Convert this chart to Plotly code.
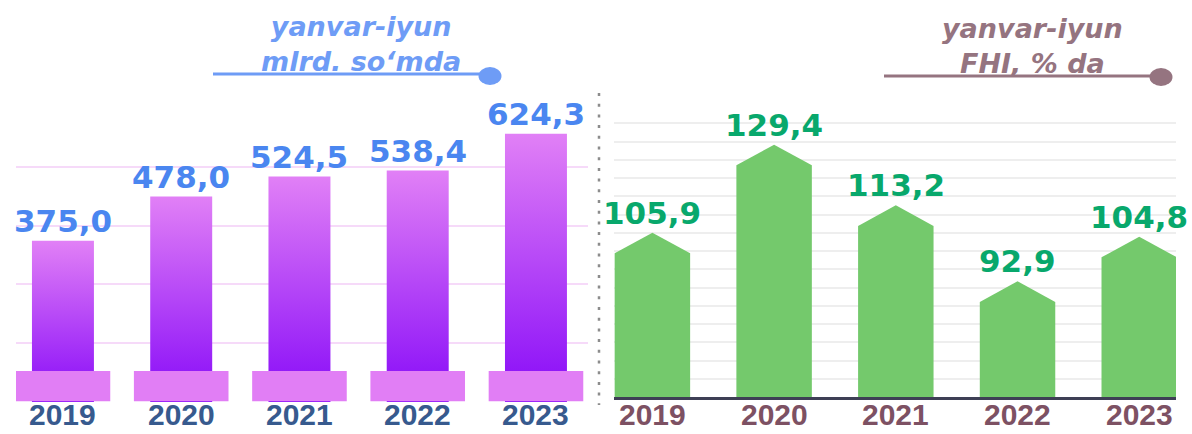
import plotly.graph_objects as go

W, H = 1192, 434

# ---- data ----
years = ["2019", "2020", "2021", "2022", "2023"]
volume = [375.0, 478.0, 524.5, 538.4, 624.3]      # yanvar-iyun, mlrd. so'm
index_pct = [105.9, 129.4, 113.2, 92.9, 104.8]    # yanvar-iyun, FHI, %

left_title = "yanvar-iyun<br>mlrd. so‘mda"
right_title = "yanvar-iyun<br>FHI, % da"


def fmt(v):
    return f"{v:.1f}".replace(".", ",")


def pxx(p):
    return p / W


def pxy(p):
    return 1 - p / H


# ---- style constants ----
BAR_HALF = 0.262
PLINTH_HALF = 0.40
PLINTH_LOW, PLINTH_HIGH = 2, 72
HOUSE_HALF = 0.31
HOUSE_DROP = 5.5
R_MIN, R_MAX = 62, 140
L_MAX = 684

NUM_FONT = "DejaVu Sans"
YEAR_FONT = "Liberation Sans, Arial"

fig = go.Figure()

# left: gradient columns
for i, v in enumerate(volume):
    fig.add_trace(go.Scatter(
        x=[i - BAR_HALF, i - BAR_HALF, i + BAR_HALF, i + BAR_HALF, i - BAR_HALF],
        y=[0, v, v, 0, 0],
        mode="lines", line=dict(width=0), fill="toself",
        fillgradient=dict(type="vertical",
                          colorscale=[[0, "#870AF8"], [1, "#E180F6"]]),
        hoverinfo="skip", showlegend=False, xaxis="x", yaxis="y"))

# left: pink plinths
for i, v in enumerate(volume):
    fig.add_trace(go.Scatter(
        x=[i - PLINTH_HALF, i - PLINTH_HALF, i + PLINTH_HALF, i + PLINTH_HALF, i - PLINTH_HALF],
        y=[PLINTH_LOW, PLINTH_HIGH, PLINTH_HIGH, PLINTH_LOW, PLINTH_LOW],
        mode="lines", line=dict(width=0), fill="toself", fillcolor="#E17EF5",
        hoverinfo="skip", showlegend=False, xaxis="x", yaxis="y"))

# right: house-shaped columns
for i, v in enumerate(index_pct):
    fig.add_trace(go.Scatter(
        x=[i - HOUSE_HALF, i - HOUSE_HALF, i, i + HOUSE_HALF, i + HOUSE_HALF, i - HOUSE_HALF],
        y=[R_MIN, v - HOUSE_DROP, v, v - HOUSE_DROP, R_MIN, R_MIN],
        mode="lines", line=dict(width=0), fill="toself", fillcolor="#74C96C",
        hoverinfo="skip", showlegend=False, xaxis="x2", yaxis="y2"))

annotations = []
for i, v in enumerate(volume):
    annotations.append(dict(
        x=i, y=v, xref="x", yref="y", text=fmt(v), showarrow=False,
        yanchor="bottom", xanchor="center",
        font=dict(family=NUM_FONT, size=31, color="#4A86F0", weight="bold")))
for i, v in enumerate(index_pct):
    annotations.append(dict(
        x=i, y=v, xref="x2", yref="y2", text=fmt(v), showarrow=False,
        yanchor="bottom", xanchor="center",
        font=dict(family=NUM_FONT, size=31, color="#08A86C", weight="bold")))

# year labels under each chart
for i, yr in enumerate(years):
    annotations.append(dict(
        x=i, y=0, xref="x", yref="y", text=yr, showarrow=False,
        yanchor="middle", xanchor="center", yshift=-12,
        font=dict(family=YEAR_FONT, size=30, color="#375A8E", weight="bold")))
    annotations.append(dict(
        x=i, y=R_MIN, xref="x2", yref="y2", text=yr, showarrow=False,
        yanchor="middle", xanchor="center", yshift=-17,
        font=dict(family=YEAR_FONT, size=30, color="#7D5163", weight="bold")))

annotations.append(dict(
    x=pxx(361), y=pxy(44), xref="paper", yref="paper", text=left_title,
    showarrow=False, xanchor="center", yanchor="middle", align="center",
    font=dict(family=NUM_FONT, size=27, color="#6E9CF6", weight="bold", style="italic")))
annotations.append(dict(
    x=pxx(1032), y=pxy(46), xref="paper", yref="paper", text=right_title,
    showarrow=False, xanchor="center", yanchor="middle", align="center",
    font=dict(family=NUM_FONT, size=27, color="#957480", weight="bold", style="italic")))

shapes = [
    # left title underline + dot
    dict(type="line", xref="paper", yref="paper", x0=pxx(213), x1=pxx(484),
         y0=pxy(74), y1=pxy(74), line=dict(color="#6E9CF6", width=3)),
    dict(type="circle", xref="paper", yref="paper", x0=pxx(478.5), x1=pxx(501.5),
         y0=pxy(85), y1=pxy(67), fillcolor="#6E9CF6", line=dict(width=0)),
    # right title underline + dot
    dict(type="line", xref="paper", yref="paper", x0=pxx(884), x1=pxx(1155),
         y0=pxy(76), y1=pxy(76), line=dict(color="#957480", width=3)),
    dict(type="circle", xref="paper", yref="paper", x0=pxx(1149.5), x1=pxx(1172.5),
         y0=pxy(86), y1=pxy(68), fillcolor="#957480", line=dict(width=0)),
    # dotted separator
    dict(type="line", xref="paper", yref="paper", x0=pxx(599), x1=pxx(599),
         y0=pxy(93), y1=pxy(405), line=dict(color="#8C8C8C", width=2.5, dash="3px,7.7px")),
]

fig.update_layout(
    width=W, height=H, autosize=False,
    margin=dict(l=0, r=0, t=0, b=0, pad=0, autoexpand=False),
    paper_bgcolor="white", plot_bgcolor="rgba(0,0,0,0)",
    showlegend=False,
    annotations=annotations, shapes=shapes,
    xaxis=dict(domain=[pxx(16), pxx(588)], range=[-0.397, 4.44],
               tickmode="array", tickvals=list(range(len(years))), ticktext=years,
               showticklabels=False, ticks="", automargin=False,
               showgrid=False, zeroline=False, showline=False, anchor="y", fixedrange=True),
    yaxis=dict(domain=[pxy(402), pxy(108)], range=[0, L_MAX],
               tickmode="linear", tick0=0, dtick=L_MAX / 5, automargin=False,
               showticklabels=False, gridcolor="#F6DAF9", gridwidth=2,
               zeroline=False, showline=False, anchor="x", fixedrange=True),
    xaxis2=dict(domain=[pxx(614), pxx(1176)], range=[-0.3155, 4.302],
                tickmode="array", tickvals=list(range(len(years))), ticktext=years,
                showticklabels=False, ticks="", automargin=False,
                showgrid=False, zeroline=False, showline=True, linecolor="#3E3F55",
                linewidth=3, anchor="y2", fixedrange=True),
    yaxis2=dict(domain=[pxy(397), pxy(105)], range=[R_MIN, R_MAX],
                tickmode="linear", tick0=R_MIN, dtick=(R_MAX - R_MIN) / 16, automargin=False,
                showticklabels=False, gridcolor="#EEEEEE", gridwidth=2,
                zeroline=False, showline=False, anchor="x2", fixedrange=True),
)

fig.write_html(
    "out.html",
    config={"responsive": False, "displayModeBar": False},
    post_script="document.body.style.margin='0';document.body.style.overflow='hidden';",
)
